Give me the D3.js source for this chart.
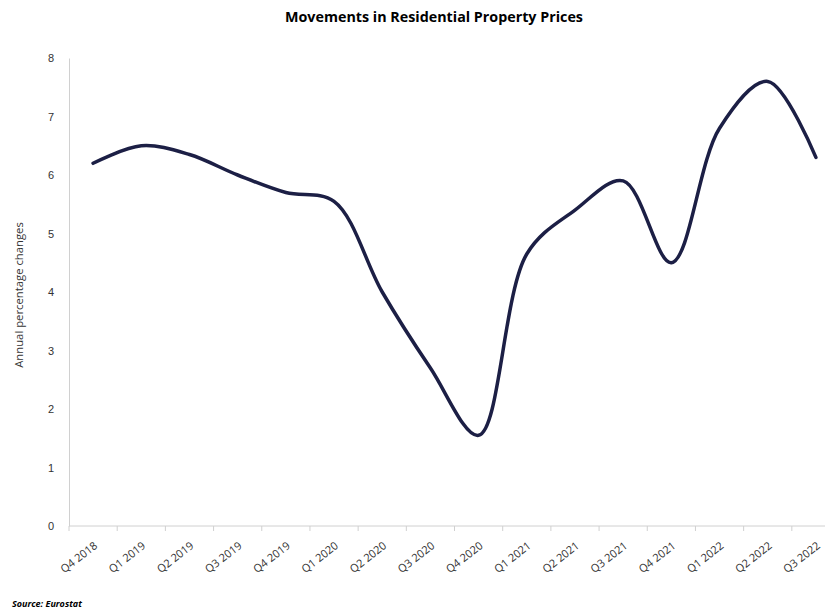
<!DOCTYPE html>
<html>
<head>
<meta charset="utf-8">
<script src="https://cdn.jsdelivr.net/npm/d3@7"></script>
<style>
  body { margin: 0; background: #fff; }
  svg { display: block; font-family: "Open Sans", "Liberation Sans", sans-serif; }
</style>
</head>
<body>
<svg id="chart" width="825" height="615"></svg>
<script>
const quarters = ["Q4 2018", "Q1 2019", "Q2 2019", "Q3 2019", "Q4 2019", "Q1 2020", "Q2 2020", "Q3 2020",
  "Q4 2020", "Q1 2021", "Q2 2021", "Q3 2021", "Q4 2021", "Q1 2022", "Q2 2022", "Q3 2022"];
const priceChange = [6.2, 6.5, 6.35, 6.0, 5.7, 5.55, 4.0, 2.7, 1.55, 4.65, 5.4, 5.9, 4.5, 6.8, 7.6, 6.3];
const yTicks = [0, 1, 2, 3, 4, 5, 6, 7, 8];

const svg = d3.select("#chart");
const plotLeft = 69, plotRight = 840, plotTop = 58, plotBottom = 526;

const x = d3.scaleBand().domain(quarters).range([plotLeft, plotRight]);
const y = d3.scaleLinear().domain([0, 8]).range([plotBottom, plotTop]);

// title
svg.append("text")
  .attr("x", 434).attr("y", 22)
  .attr("text-anchor", "middle")
  .style("font-size", "14.3px").style("font-weight", "bold")
  .text("Movements in Residential Property Prices");

// y axis
const yAxis = svg.append("g")
  .attr("transform", "translate(" + plotLeft + ",0)")
  .call(d3.axisLeft(y).tickValues(yTicks).tickSize(0).tickPadding(15));
yAxis.select(".domain").attr("stroke", "#d0d0d0");
yAxis.selectAll("text").style("font-size", "11px").attr("fill", "#333");

svg.append("text")
  .attr("transform", "translate(19,295)rotate(-90)")
  .attr("text-anchor", "middle")
  .attr("dy", "0.35em")
  .style("font-size", "11.3px").attr("fill", "#333")
  .text("Annual percentage changes");

// x axis with ticks on the band boundaries
const xAxis = svg.append("g")
  .attr("transform", "translate(0," + plotBottom + ")");
xAxis.append("line")
  .attr("x1", plotLeft).attr("x2", plotRight)
  .attr("stroke", "#d0d0d0");
xAxis.selectAll(".tick-mark")
  .data(quarters)
  .enter()
  .append("line")
  .attr("x1", d => x(d)).attr("x2", d => x(d))
  .attr("y1", 0).attr("y2", 5)
  .attr("stroke", "#d0d0d0");
xAxis.selectAll(".xlabel")
  .data(quarters)
  .enter()
  .append("text")
  .attr("transform", d => "translate(" + (x(d) + x.bandwidth() / 2 + 5) + ",21)rotate(-38)")
  .attr("text-anchor", "end")
  .style("font-size", "11px").attr("fill", "#333")
  .text(d => d);

// line
const line = d3.line()
  .x((d, i) => x(quarters[i]) + x.bandwidth() / 2)
  .y(d => y(d))
  .curve(d3.curveCatmullRom.alpha(0.5));

svg.append("path")
  .datum(priceChange)
  .attr("fill", "none")
  .attr("stroke", "#1c1f45")
  .attr("stroke-width", 3.5)
  .attr("stroke-linecap", "round")
  .attr("d", line);

// source
svg.append("text")
  .attr("x", 12).attr("y", 607)
  .style("font-size", "9px").style("font-weight", "bold").style("font-style", "italic")
  .text("Source: Eurostat");
</script>
</body>
</html>
